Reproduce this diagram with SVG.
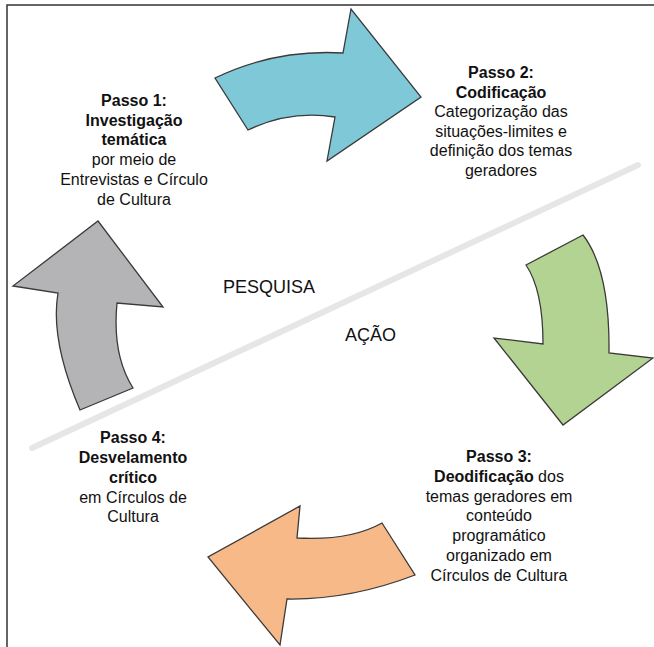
<svg xmlns="http://www.w3.org/2000/svg" width="654" height="647" viewBox="0 0 654 647">
<style>
.arrow{stroke:#3a3a3a;stroke-width:1.3;stroke-linejoin:miter}
.t{font-family:"Liberation Sans",Arial,sans-serif;font-size:16px;fill:#111;text-anchor:middle}
.b{font-weight:bold}
.lbl{font-family:"Liberation Sans",Arial,sans-serif;font-size:18px;fill:#111}
</style>
<rect x="0" y="0" width="654" height="647" fill="#fff"/>
<path d="M7 647 V5 H654" fill="none" stroke="#333" stroke-width="1.5"/>
<line x1="32" y1="448" x2="638" y2="165" stroke="#e6e6e6" stroke-width="6" stroke-linecap="round"/>
<g id="connectors">
<path id="arrow-blue" class="arrow" fill="#7ec8d8" d="M215 78 Q275 49 343 53 L351 9 L421 97 L327 161 L335 117 Q290 110 248 130 Z"/>
<path id="arrow-green" class="arrow" fill="#b3d393" d="M526 265 L583 235 Q610 270 609 353 L653 358 L563 425 L494 338 L543 344 Q543 290 526 265 Z"/>
<path id="arrow-orange" class="arrow" fill="#f8b989" d="M382 523 L415 575 Q350 600 287 599 L280 645 L208 557 L300 506 L297 538 Q350 541 382 523 Z"/>
<path id="arrow-gray" class="arrow" fill="#b4b4b6" d="M98 221 L163 307 L117 303 Q112 355 133 388 L80 410 Q50 340 58 293 L13 286 Z"/>
</g>
<g id="step1">
<text class="t b" x="134" y="106">Passo 1:</text>
<text class="t b" x="134" y="125.5">Investigação</text>
<text class="t b" x="134" y="145">temática</text>
<text class="t" x="134" y="165">por meio de</text>
<text class="t" x="134" y="185">Entrevistas e Círculo</text>
<text class="t" x="134" y="204.5">de Cultura</text>
</g>
<g id="step2">
<text class="t b" x="501" y="78">Passo 2:</text>
<text class="t b" x="501" y="97.5">Codificação</text>
<text class="t" x="501" y="117">Categorização das</text>
<text class="t" x="501" y="136.5">situações-limites e</text>
<text class="t" x="501" y="156">definição dos temas</text>
<text class="t" x="501" y="175.5">geradores</text>
</g>
<g id="step3">
<text class="t b" x="499" y="462">Passo 3:</text>
<text class="t" x="499" y="482"><tspan class="b">Deodificação</tspan> dos</text>
<text class="t" x="499" y="501.5">temas geradores em</text>
<text class="t" x="499" y="521">conteúdo</text>
<text class="t" x="499" y="541">programático</text>
<text class="t" x="499" y="561">organizado em</text>
<text class="t" x="499" y="580.5">Círculos de Cultura</text>
</g>
<g id="step4">
<text class="t b" x="133" y="443">Passo 4:</text>
<text class="t b" x="133" y="463">Desvelamento</text>
<text class="t b" x="133" y="483">crítico</text>
<text class="t" x="133" y="503">em Círculos de</text>
<text class="t" x="133" y="522">Cultura</text>
</g>
<g id="labels">
<text class="lbl" x="223" y="293">PESQUISA</text>
<text class="lbl" x="345" y="341">AÇÃO</text>
</g>
</svg>
